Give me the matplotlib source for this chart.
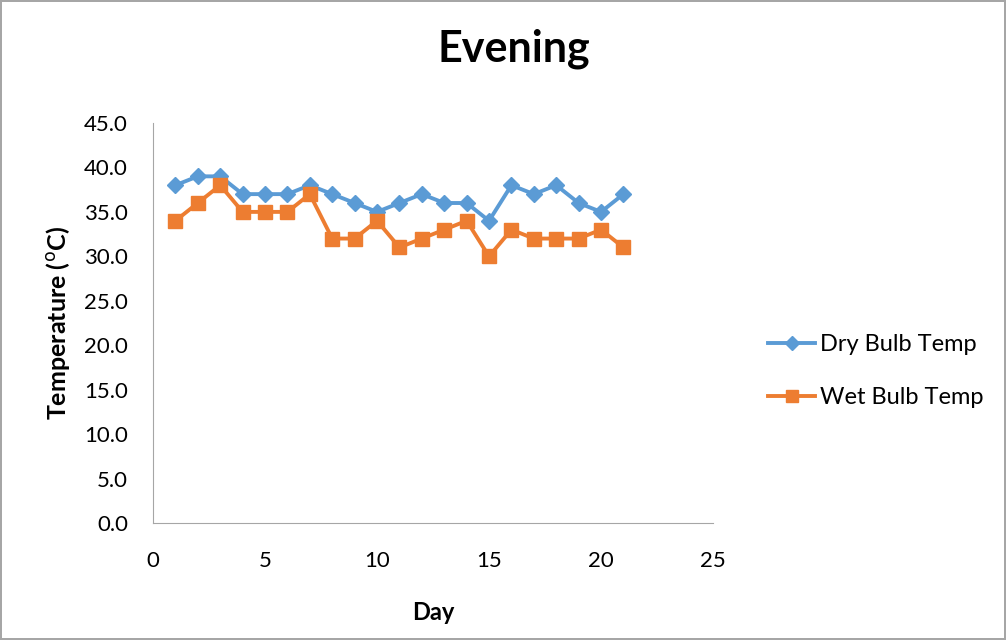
import matplotlib
matplotlib.use("Agg")
import matplotlib.pyplot as plt
from matplotlib.lines import Line2D

plt.rcParams['font.family'] = ['Lato', 'DejaVu Sans']

days = list(range(1, 22))
dry_bulb = [38, 39, 39, 37, 37, 37, 38, 37, 36, 35, 36, 37, 36, 36, 34, 38, 37, 38, 36, 35, 37]
wet_bulb = [34, 36, 38, 35, 35, 35, 37, 32, 32, 34, 31, 32, 33, 34, 30, 33, 32, 32, 32, 33, 31]

fig = plt.figure(figsize=(10.06, 6.4), dpi=100)
fig.patch.set_edgecolor('#a6a6a6')
fig.patch.set_linewidth(1.5)
ax = fig.add_axes([0.1521, 0.1828, 0.5567, 0.625])

ax.plot(days, dry_bulb, color='#5b9bd5', linewidth=2.8, marker='D', markersize=8)
ax.plot(days, wet_bulb, color='#ed7d31', linewidth=2.8, marker='s', markersize=10)

ax.set_xlim(0, 25)
ax.set_ylim(0, 45)
ax.set_xticks(range(0, 26, 5))
ax.set_yticks(range(0, 46, 5))
ax.set_yticklabels([f"{v:.1f}" for v in range(0, 46, 5)])
ax.tick_params(axis='both', labelsize=16, length=0)
ax.tick_params(axis='x', pad=20)
ax.tick_params(axis='y', pad=18)
for s in ['top', 'right']:
    ax.spines[s].set_visible(False)
for s in ['left', 'bottom']:
    ax.spines[s].set_color('#a6a6a6')

ax.set_xlabel("Day", fontsize=17, fontweight='bold')
ax.xaxis.set_label_coords(0.5, -0.195)
ax.set_ylabel("Temperature ($^{\\mathrm{o}}$C)", fontsize=18, fontweight='bold')
ax.yaxis.set_label_coords(-0.145, 0.5)
fig.suptitle("Evening", fontsize=31, fontweight='bold', x=0.511, y=0.955)

handles = [
    Line2D([], [], color='#5b9bd5', linewidth=2.8, marker='D', markersize=7),
    Line2D([], [], color='#ed7d31', linewidth=2.8, marker='s', markersize=8),
]
ax.legend(handles, ['Dry Bulb Temp', 'Wet Bulb Temp'], loc='center left',
          bbox_to_anchor=(1.06, 0.38), frameon=False,
          fontsize=17, handlelength=2.0, labelspacing=1.35, handletextpad=0.2)

fig.savefig("out.png", dpi=100)
